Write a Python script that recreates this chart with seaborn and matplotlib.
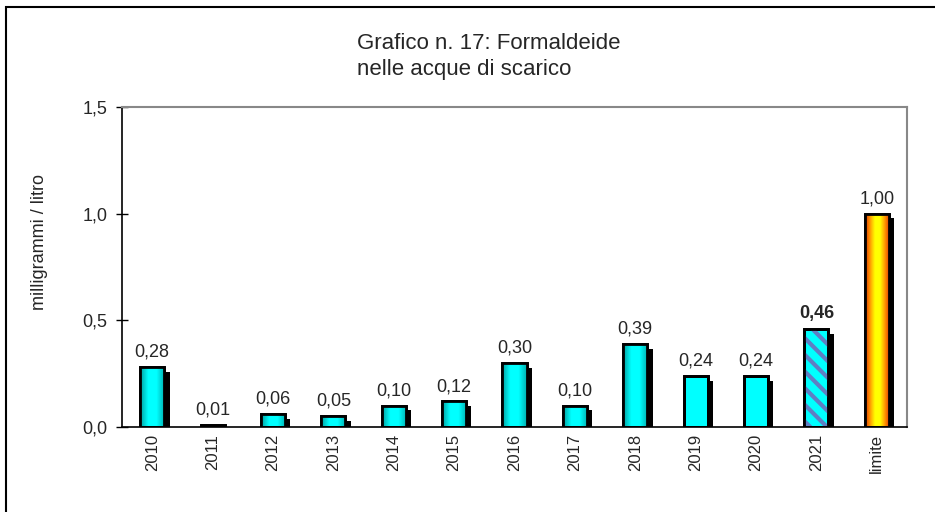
import numpy as np
import pandas as pd
import matplotlib
matplotlib.use('Agg')
import matplotlib.pyplot as plt
import matplotlib.patheffects as pe
from matplotlib.patches import Rectangle
from matplotlib.colors import LinearSegmentedColormap
from matplotlib.ticker import MultipleLocator, FuncFormatter
import seaborn as sns

# --- DATI ---
anni = ['2010', '2011', '2012', '2013', '2014', '2015', '2016', '2017',
        '2018', '2019', '2020', '2021', 'limite']
valori = [0.28, 0.01, 0.06, 0.05, 0.10, 0.12, 0.30, 0.10, 0.39, 0.24, 0.24, 0.46, 1.00]
stile = ['grad', 'grad', 'grad', 'grad', 'grad', 'grad', 'grad', 'grad', 'grad',
         'flat', 'flat', 'hatch', 'limite']

TITOLO = 'Grafico n. 17: Formaldeide\nnelle acque di scarico'
ETICHETTA_Y = 'milligrammi / litro'

df = pd.DataFrame({'anno': anni, 'valore': valori})

sns.set_style('white')
plt.rcParams['font.family'] = ['Liberation Sans', 'DejaVu Sans']
plt.rcParams['hatch.linewidth'] = 3.0

fig = plt.figure(figsize=(9.35, 5.12), dpi=100)
ax = fig.add_axes([0.1305, 0.166, 0.8395, 0.625])

sns.barplot(data=df, x='anno', y='valore', color='#00ffff', width=0.4,
            edgecolor='black', linewidth=2, saturation=1, ax=ax)

cmap_ciano = LinearSegmentedColormap.from_list('ciano', ['#00a0a0', '#00ffff', '#00ffff', '#00b0b0'])
cmap_limite = LinearSegmentedColormap.from_list('limite', ['#e03000', '#ff9a00', '#ffff00', '#ffff00', '#ff9a00', '#e03000'])
ombra = [pe.SimplePatchShadow(offset=(3.8, -3.4), shadow_rgbFace='black', alpha=1.0), pe.Normal()]

for patch, s, v in zip(ax.patches, stile, valori):
    x0, y0 = patch.get_x(), patch.get_y()
    w, h = patch.get_width(), patch.get_height()
    patch.set_path_effects(ombra)
    patch.set_zorder(2)
    if s in ('grad', 'limite'):
        cm = cmap_ciano if s == 'grad' else cmap_limite
        img = ax.imshow(np.linspace(0, 1, 64).reshape(1, -1), cmap=cm, aspect='auto',
                        extent=(x0, x0 + w, y0, y0 + h), zorder=2.5)
        img.set_clip_path(patch)
    elif s == 'hatch':
        patch.set_facecolor('#00ffff')
        strisce = Rectangle((x0, y0), w, h, facecolor='none', edgecolor='#5f7fc4',
                            hatch='\\\\', linewidth=0, zorder=2.5)
        ax.add_patch(strisce)
    bordo = Rectangle((x0, y0), w, h, fill=False, edgecolor='black', linewidth=2, zorder=3)
    ax.add_patch(bordo)
    ax.text(x0 + w / 2, y0 + h + 0.03, f'{v:.2f}'.replace('.', ','), ha='center', va='bottom',
            fontsize=13, fontweight='bold' if s == 'hatch' else 'normal', zorder=4)

ax.set_xlim(-0.5, len(anni) - 0.5)
ax.set_ylim(0, 1.5)
ax.yaxis.set_major_locator(MultipleLocator(0.5))
ax.yaxis.set_major_formatter(FuncFormatter(lambda y, p: f'{y:.1f}'.replace('.', ',')))
ax.set_xticks(range(len(anni)))
ax.set_xticklabels(anni, rotation=90, fontsize=12)
ax.tick_params(axis='x', which='major', length=0, pad=5)
ax.set_xticks(np.arange(-0.5, len(anni), 1), minor=True)
ax.tick_params(axis='x', which='minor', direction='inout', length=8, width=1, color='black')
ax.tick_params(axis='y', direction='inout', length=9, width=1, color='black', labelsize=13, pad=6, left=True)
ax.set_xlabel('')
ax.set_ylabel(ETICHETTA_Y, fontsize=13)
ax.yaxis.set_label_coords(-0.094, 0.578)

for lato in ['left', 'bottom']:
    ax.spines[lato].set_color('black')
    ax.spines[lato].set_linewidth(1.2)
for lato in ['top', 'right']:
    ax.spines[lato].set_color('#888888')
    ax.spines[lato].set_linewidth(1.5)

fig.text(0.382, 0.935, TITOLO, ha='left', va='top', fontsize=16, linespacing=1.3)

# cornice del grafico (prosegue oltre il bordo destro e inferiore)
fig.patches.append(Rectangle((6 / 935, -0.1), 1.1, 1 - 7 / 512 + 0.1, transform=fig.transFigure,
                             fill=False, edgecolor='black', linewidth=1.5))

plt.savefig('out.png', dpi=100)
plt.close()
